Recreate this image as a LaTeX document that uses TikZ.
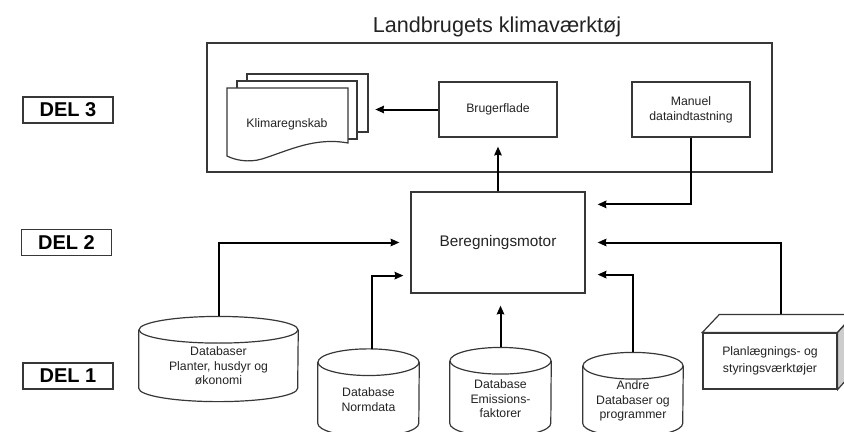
\documentclass[tikz,border=0pt]{standalone}
\usepackage{fontspec}
\setmainfont{Liberation Sans}
\usetikzlibrary{positioning,arrows.meta,shapes.geometric,calc,fit}
\definecolor{framegray}{RGB}{55,55,55}
\definecolor{textgray}{RGB}{35,35,35}
\definecolor{sidegray}{RGB}{205,205,205}
\tikzset{
  frame-box/.style={draw=framegray, line width=0.9pt, inner sep=0pt},
  ui-node/.style={draw=framegray, line width=0.9pt, fill=white,
    minimum width=88.5pt, minimum height=41.25pt, font=\fontsize{9.2}{11}\selectfont,
    align=center, text=textgray, inner sep=2pt},
  engine-node/.style={draw=framegray, line width=0.9pt, minimum width=130.5pt,
    minimum height=75.75pt, font=\fontsize{11.5}{13}\selectfont, text=textgray},
  db-node/.style={font=\fontsize{9.2}{10.9}\selectfont, align=center, text=textgray,
    inner sep=0pt},
  cyl-line/.style={draw=framegray, line width=0.9pt},
  tool-node/.style={draw=framegray, line width=0.9pt, fill=white, minimum width=100.5pt,
    minimum height=42pt, font=\fontsize{9.2}{12.5}\selectfont, align=center, text=textgray},
  part-label/.style={draw=framegray, line width=0.8pt, minimum width=67.5pt,
    minimum height=19.5pt, inner sep=0pt, font=\fontsize{15}{15}\selectfont\bfseries},
  sheet/.style={draw=framegray, line width=0.9pt, fill=white},
  flow-arrow/.style={-{Stealth[length=6.5pt,width=5.5pt,inset=0.5pt]}, line width=1.5pt, draw=black}
}
% database drum round the body node #1, half width #2
\newcommand{\drumof}[2]{%
  \draw[cyl-line] ($(#1.north west)+(0pt,10pt)$) -- (#1.south west)
    arc[start angle=180, end angle=360, x radius=#2, y radius=10pt]
    -- ($(#1.north east)+(0pt,10pt)$);
  \draw[cyl-line] ($(#1.north)+(0pt,10pt)$) ellipse [x radius=#2, y radius=10pt];}

\begin{document}
\begin{tikzpicture}[x=0.75pt, y=-0.75pt]
\useasboundingbox (0,0) rectangle (844,432);
\clip (0,0) rectangle (844,432);

% Part labels (left column)
\node[part-label] (del3) at (68,110) {DEL 3};
\node[part-label] (del2) at (66.5,242.5) {DEL 2};
\node[part-label] (del1) at (68,376) {DEL 1};

% DEL 3: the tool frame
\node[frame-box, fit={(207,43) (772,172)}] (tool) {};
\node[font=\fontsize{16.2}{19}\selectfont, text=textgray, anchor=base] (title) at (497,32) {Landbrugets klimaværktøj};

\node[ui-node] (bruger) at (498,109.5) {Brugerflade};
\node[ui-node] (manuel) at (691,109.5) {Manuel\\dataindtastning};

% stack of reports
\draw[sheet] (247,74) rectangle (368,132);
\draw[sheet] (237,81) rectangle (357,139);
\draw[sheet] (227,88) -- (348,88) -- (348,143)
  .. controls (315,137) and (290,150) .. (262,159)
  .. controls (248,163) and (235,160) .. (227,156) -- cycle;
\node[font=\fontsize{9.2}{11}\selectfont, text=textgray] (regnskab) at (287,124) {Klimaregnskab};
\node[fit={(227,74) (368,160)}, inner sep=0pt] (stack) {};

% DEL 2: engine
\node[engine-node] (motor) at (498,242.5) {Beregningsmotor};

% DEL 1: data sources (nodes are the drum bodies)
\node[db-node, minimum width=119.25pt, minimum height=33.5pt] (dbplant) at (218.5,365.7) {Databaser\\Planter, husdyr og\\økonomi};
\node[db-node, minimum width=75.75pt, minimum height=35.4pt] (dbnorm) at (368.5,399.4) {Database\\Normdata};
\node[db-node, minimum width=75.75pt, minimum height=36.5pt] (dbemis) at (500.5,398.7) {Database\\Emissions-\\faktorer};
\node[db-node, minimum width=75pt, minimum height=32.8pt] (dbother) at (633,401.2) {Andre\\Databaser og\\programmer};
\drumof{dbplant}{59.6pt}
\drumof{dbnorm}{37.9pt}
\drumof{dbemis}{37.9pt}
\drumof{dbother}{37.5pt}

\node[tool-node] (plan) at (770,361) {Planlægnings- og\\styringsværktøjer};
\draw[sheet] (plan.north west) -- ++(17,-18) -- ++(134,0) -- (plan.north east) -- cycle;
\filldraw[draw=framegray, line width=0.9pt, fill=sidegray] (plan.north east) -- ++(17,-18) -- ++(0,56) -- (plan.south east) -- cycle;

% Connectors
\draw[flow-arrow, shorten >=5.25pt] (bruger.west) -- (bruger.west -| stack.east);
\draw[flow-arrow, shorten >=6.75pt] (motor.north) -- (bruger.south);
\draw[flow-arrow, shorten >=9pt] (manuel.south) |- ($(motor.north east)+(0,13)$);
\draw[flow-arrow, shorten >=8.25pt] ($(dbplant.north)+(0pt,20pt)$) |- (motor.west);
\draw[flow-arrow, shorten >=5.25pt] ($(dbnorm.north)+(2.6pt,20pt)$) |- ($(motor.south west)+(0,-18)$);
\draw[flow-arrow, shorten >=9pt] ($(dbemis.north)+(0pt,20pt)$) -- (dbemis.north |- motor.south);
\draw[flow-arrow, shorten >=9pt] ($(dbother.north)+(0pt,20pt)$) |- ($(motor.south east)+(0,-19)$);
\draw[flow-arrow, shorten >=9pt] ($(plan.north)+(11,-18)$) |- (motor.east);
\end{tikzpicture}
\end{document}
